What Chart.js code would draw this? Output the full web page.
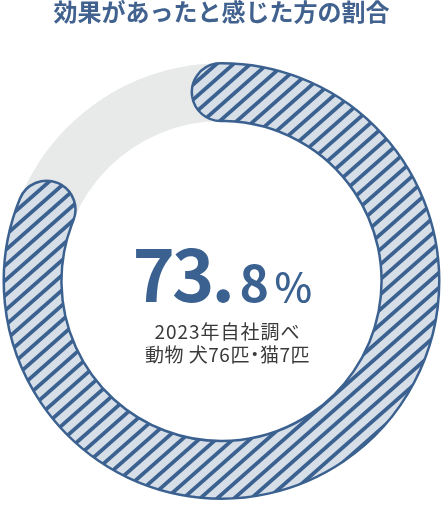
<!DOCTYPE html>
<html lang="ja">
<head>
<meta charset="utf-8">
<script src="https://cdn.jsdelivr.net/npm/chart.js@4.4.1/dist/chart.umd.min.js"></script>
<style>
  html, body { margin: 0; padding: 0; background: #fff; }
  #wrap { width: 444px; height: 505px; position: relative; }
</style>
</head>
<body>
<div id="wrap"><canvas id="kouka"></canvas></div>
<script>
// データ
const labels = ['効果があった', 'その他'];
const shares = [73.8, 26.2];
const centerValue = ['73.', '8', '%'];
const noteLine1 = '2023年自社調べ';
const noteLine2 = ['動物 犬76匹', '・', '猫7匹'];
const titleText = '効果があったと感じた方の割合';

const navy = '#3b6190';
const jp = '"Noto Sans CJK JP", "Noto Sans", sans-serif';

// 斜線パターン
function hatch() {
  const w = 17, h = 15;
  const c = document.createElement('canvas');
  c.width = w; c.height = h;
  const g = c.getContext('2d');
  g.fillStyle = '#d6dee8';
  g.fillRect(0, 0, w, h);
  g.strokeStyle = navy;
  g.lineWidth = 3.8;
  for (let k = -1; k <= 1; k++) {
    g.beginPath();
    g.moveTo(-w, 2 * h + k * h);
    g.lineTo(2 * w, -h + k * h);
    g.stroke();
  }
  return g.createPattern(c, 'repeat');
}

// 背景のグレーのリング
const track = {
  id: 'track',
  beforeDatasetsDraw(chart) {
    const arc = chart.getDatasetMeta(0).data[0];
    if (!arc) return;
    const { x, y, innerRadius, outerRadius } = arc.getProps(['x', 'y', 'innerRadius', 'outerRadius'], true);
    const ctx = chart.ctx;
    ctx.save();
    ctx.beginPath();
    ctx.arc(x, y, outerRadius, 0, Math.PI * 2);
    ctx.arc(x, y, innerRadius, 0, Math.PI * 2, true);
    ctx.fillStyle = '#e8e9e9';
    ctx.fill();
    ctx.restore();
  }
};

// 中央の数値と注記
const centerText = {
  id: 'centerText',
  afterDatasetsDraw(chart) {
    const arc = chart.getDatasetMeta(0).data[0];
    if (!arc) return;
    const { x, y } = arc.getProps(['x', 'y'], true);
    const ctx = chart.ctx;
    ctx.save();
    ctx.fillStyle = navy;
    ctx.textBaseline = 'alphabetic';
    ctx.textAlign = 'left';
    const fonts = ['bold 72px ' + jp, 'bold 50px ' + jp, '500 40px ' + jp];
    const spacing = ['-3px', '0px', '0px'];
    const gaps = [11, 8];
    const base = y + 21;
    let sx = x - 86;
    centerValue.forEach((t, i) => {
      ctx.font = fonts[i];
      ctx.letterSpacing = spacing[i];
      const m = ctx.measureText(t);
      const px = sx + m.actualBoundingBoxLeft;
      ctx.fillText(t, px, base);
      sx = px + m.actualBoundingBoxRight + (gaps[i] || 0);
    });

    ctx.fillStyle = '#3a3a3a';
    ctx.textBaseline = 'middle';
    ctx.font = '400 19px ' + jp;
    ctx.letterSpacing = '1px';
    ctx.textAlign = 'center';
    const nx = x + 6;
    ctx.fillText(noteLine1, nx, y + 51);

    ctx.textAlign = 'left';
    ctx.letterSpacing = '0.5px';
    const dotW = 10;
    const w1 = ctx.measureText(noteLine2[0]).width;
    const w3 = ctx.measureText(noteLine2[2]).width;
    const dw = ctx.measureText(noteLine2[1]).width;
    let lx = nx - (w1 + dotW + w3) / 2;
    const ly = y + 74;
    ctx.fillText(noteLine2[0], lx, ly);
    lx += w1;
    ctx.fillText(noteLine2[1], lx + dotW / 2 - dw / 2, ly);
    lx += dotW;
    ctx.fillText(noteLine2[2], lx, ly);
    ctx.restore();
  }
};

const ctx = document.getElementById('kouka').getContext('2d');
const koukaChart = new Chart(ctx, {
  type: 'doughnut',
  data: {
    labels: labels,
    datasets: [{
      data: shares,
      backgroundColor: [hatch(), 'rgba(0,0,0,0)'],
      borderColor: [navy, 'rgba(0,0,0,0)'],
      borderWidth: [2.5, 0],
      borderRadius: [40, 0],
      hoverOffset: 0
    }]
  },
  options: {
    responsive: true,
    maintainAspectRatio: false,
    animation: false,
    events: [],
    cutout: '73.5%',
    rotation: -9,
    circumference: 420, // デザイン上の円弧は値より長く描かれている
    layout: { padding: { top: 0, left: 2, right: 3, bottom: 5 } },
    plugins: {
      legend: { display: false },
      tooltip: { enabled: false },
      title: {
        display: true,
        text: titleText,
        color: '#41618e',
        font: { family: jp, size: 24, weight: 'bold', lineHeight: 1 },
        padding: { top: 0, bottom: 38 }
      }
    }
  },
  plugins: [track, centerText]
});
</script>
</body>
</html>
